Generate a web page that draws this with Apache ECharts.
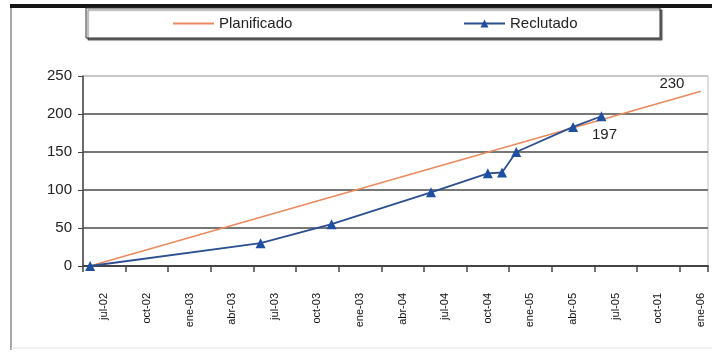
<!DOCTYPE html>
<html>
<head>
<meta charset="utf-8">
<script src="https://cdn.jsdelivr.net/npm/echarts@6/dist/echarts.min.js"></script>
<style>
  html, body { margin: 0; padding: 0; background: #fff; }
  #chart { width: 712px; height: 353px; }
</style>
</head>
<body>
<div id="chart"></div>
<script>
// Monthly slots of the time axis (jul-02 .. feb-06)
const months = [
  'jul-02','ago-02','sep-02','oct-02','nov-02','dic-02',
  'ene-03','feb-03','mar-03','abr-03','may-03','jun-03','jul-03','ago-03','sep-03','oct-03','nov-03','dic-03',
  'ene-04','feb-04','mar-04','abr-04','may-04','jun-04','jul-04','ago-04','sep-04','oct-04','nov-04','dic-04',
  'ene-05','feb-05','mar-05','abr-05','may-05','jun-05','jul-05','ago-05','sep-05','oct-05','nov-05','dic-05',
  'ene-06','feb-06'
];

// Quarter labels printed under the axis, one per three months
const quarterLabels = [
  'jul-02','oct-02','ene-03','abr-03','jul-03','oct-03','ene-03','abr-04',
  'jul-04','oct-04','ene-05','abr-05','jul-05','oct-01','ene-06'
];

// Planned enrolment
const planMonths = ['jul-02', 'feb-06'];
const planValues = [0, 230];

// Actual enrolment
const recMonths = ['jul-02','jul-03','dic-03','jul-04','nov-04','dic-04','ene-05','may-05','jul-05'];
const recValues = [0, 30, 55, 97, 122, 123, 150, 183, 197];

const yTicks = [0, 50, 100, 150, 200, 250];

const FONT = '"Liberation Sans", Arial, sans-serif';

const chart = echarts.init(document.getElementById('chart'), null, { renderer: 'canvas' });

chart.setOption({
  animation: false,
  backgroundColor: '#ffffff',
  textStyle: { fontFamily: FONT },
  graphic: [
    // dark top edge of the frame
    { type: 'rect', z: 0, shape: { x: 10, y: 4, width: 702, height: 4 }, style: { fill: '#161616' } },
    // left edge of the frame
    { type: 'line', z: 0, shape: { x1: 11, y1: 8, x2: 11, y2: 350 }, style: { stroke: '#8a8a8a', lineWidth: 1.5 } },
    // faint bottom edge
    { type: 'line', z: 0, shape: { x1: 11, y1: 348, x2: 712, y2: 348 }, style: { stroke: '#e4e4e4', lineWidth: 1 } },
    // legend box with shadow
    {
      type: 'rect', z: 0,
      shape: { x: 86, y: 8, width: 574, height: 30 },
      style: {
        fill: '#ffffff', stroke: '#333333', lineWidth: 1,
        shadowColor: 'rgba(0,0,0,0.55)', shadowOffsetX: 2, shadowOffsetY: 2, shadowBlur: 1
      }
    }
  ],
  legend: [
    {
      data: [{ name: 'Planificado', itemStyle: { opacity: 0 } }],
      left: 172, top: 16, padding: 0,
      itemWidth: 41, itemHeight: 10, itemGap: 0,
      textStyle: { fontSize: 15, color: '#222', fontFamily: FONT }
    },
    {
      data: ['Reclutado'],
      left: 463, top: 16, padding: 0,
      itemWidth: 41, itemHeight: 10, itemGap: 0,
      textStyle: { fontSize: 15, color: '#222', fontFamily: FONT }
    }
  ],
  grid: {
    left: 83, right: 4, top: 76, bottom: 87,
    show: true, borderColor: '#bdbdbd', borderWidth: 1,
    backgroundColor: 'transparent'
  },
  xAxis: {
    type: 'category',
    data: months,
    boundaryGap: true,
    axisLine: { show: true, lineStyle: { color: '#444', width: 2 } },
    axisTick: {
      show: true,
      interval: function (idx) { return idx % 3 === 0; },
      length: 6,
      lineStyle: { color: '#444', width: 1.5 }
    },
    axisLabel: {
      interval: 0,
      rotate: 90,
      margin: 27,
      fontSize: 11,
      color: '#111',
      fontFamily: FONT,
      formatter: function (val, idx) {
        return idx % 3 === 1 ? quarterLabels[(idx - 1) / 3] : '';
      }
    },
    splitLine: { show: false }
  },
  yAxis: {
    type: 'value',
    min: yTicks[0],
    max: yTicks[yTicks.length - 1],
    interval: 50,
    axisLine: { show: true, lineStyle: { color: '#444', width: 1.5 } },
    axisTick: { show: true, length: 5, lineStyle: { color: '#444' } },
    axisLabel: { fontSize: 15, color: '#222', margin: 11, fontFamily: FONT },
    splitLine: {
      show: true,
      lineStyle: { color: ['#777', '#777', '#777', '#777', '#777', '#c8c8c8'], width: 2 }
    }
  },
  series: [
    {
      name: 'Planificado',
      type: 'line',
      data: planMonths.map((m, i) => [m, planValues[i]]),
      symbol: 'none',
      color: '#e98a5e',
      lineStyle: { color: '#e98a5e', width: 1.5 },
      endLabel: {
        show: true,
        formatter: p => String(p.value[1]),
        distance: 0,
        align: 'center',
        verticalAlign: 'middle',
        offset: [-29, -7],
        fontSize: 15,
        color: '#222',
        fontFamily: FONT
      },
      z: 2
    },
    {
      name: 'Reclutado',
      type: 'line',
      data: recMonths.map((m, i) => [m, recValues[i]]),
      symbol: 'triangle',
      symbolSize: 10,
      color: '#1f4fa0',
      itemStyle: { color: '#1f4fa0' },
      lineStyle: { color: '#2c4f92', width: 1.8 },
      endLabel: {
        show: true,
        formatter: p => String(p.value[1]),
        distance: 0,
        align: 'center',
        verticalAlign: 'middle',
        offset: [3, 19],
        fontSize: 15,
        color: '#222',
        fontFamily: FONT
      },
      z: 3
    }
  ]
});
</script>
</body>
</html>
